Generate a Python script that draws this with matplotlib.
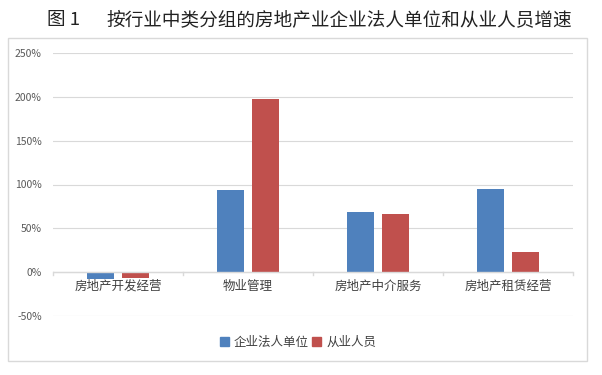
import matplotlib.pyplot as plt
from matplotlib.patches import Rectangle, Patch
import numpy as np

plt.rcParams['font.family'] = ['Noto Sans CJK SC', 'DejaVu Sans']

# data
categories = ["房地产开发经营", "物业管理", "房地产中介服务", "房地产租赁经营"]
firms = [-8, 94, 68, 95]      # 企业法人单位 (%)
workers = [-7, 198, 66, 23]   # 从业人员 (%)
series_names = ["企业法人单位", "从业人员"]
yticks = [-50, 0, 50, 100, 150, 200, 250]

blue = "#4f81bd"
red = "#c0504d"

fig = plt.figure(figsize=(6.02, 3.75), dpi=100)

# outer chart frame
fig.patches.append(Rectangle((8 / 602, 1 - 361 / 375), 579 / 602, 323 / 375,
                             transform=fig.transFigure, fill=False,
                             edgecolor="#d9d9d9", linewidth=1.0))

# title: figure number and caption placed separately
title_y = 1 - 20 / 375
fig.text(47 / 602, title_y, "图 1", ha="left", va="center", fontsize=13.4, color="#222222")
fig.text(106 / 602, title_y, "按行业中类分组的房地产业企业法人单位和从业人员增速",
         ha="left", va="center", fontsize=13.4, color="#222222")

ax = fig.add_axes([53 / 602, 1 - 315.7 / 375, 520 / 602, (315.7 - 53.3) / 375])

x = np.arange(len(categories))
w = 0.208
off = 0.135
ax.bar(x - off, firms, w, color=blue, zorder=3)
ax.bar(x + off, workers, w, color=red, zorder=3)

ax.set_xlim(-0.5, len(categories) - 0.5)
ax.set_ylim(-50, 250)
ax.set_yticks(yticks)
ax.set_yticklabels([f"{v}%" for v in yticks], fontsize=7.5, color="#595959")
ax.yaxis.grid(True, color="#d9d9d9", linewidth=0.8, zorder=0)
ax.tick_params(axis="y", length=0, pad=8)

for s in ax.spines.values():
    s.set_visible(False)

# zero axis line with separator ticks
ax.axhline(0, color="#d9d9d9", linewidth=1.0, zorder=4)
ax.set_xticks([])
for b in np.arange(-0.5, len(categories), 1.0):
    ax.plot([b, b], [0, -3.5], color="#d9d9d9", linewidth=1.0, zorder=4, clip_on=False)
for i, c in enumerate(categories):
    ax.text(i, -16.5, c, ha="center", va="center", fontsize=9, color="#404040")

handles = [Patch(color=blue), Patch(color=red)]
fig.legend(handles, series_names, loc="center", bbox_to_anchor=(0.495, 1 - 342 / 375),
           ncol=2, frameon=False, fontsize=9, handlelength=0.7, handleheight=0.7,
           handletextpad=0.4, columnspacing=0.3, labelcolor="#404040")

fig.savefig("out.png", dpi=100)
